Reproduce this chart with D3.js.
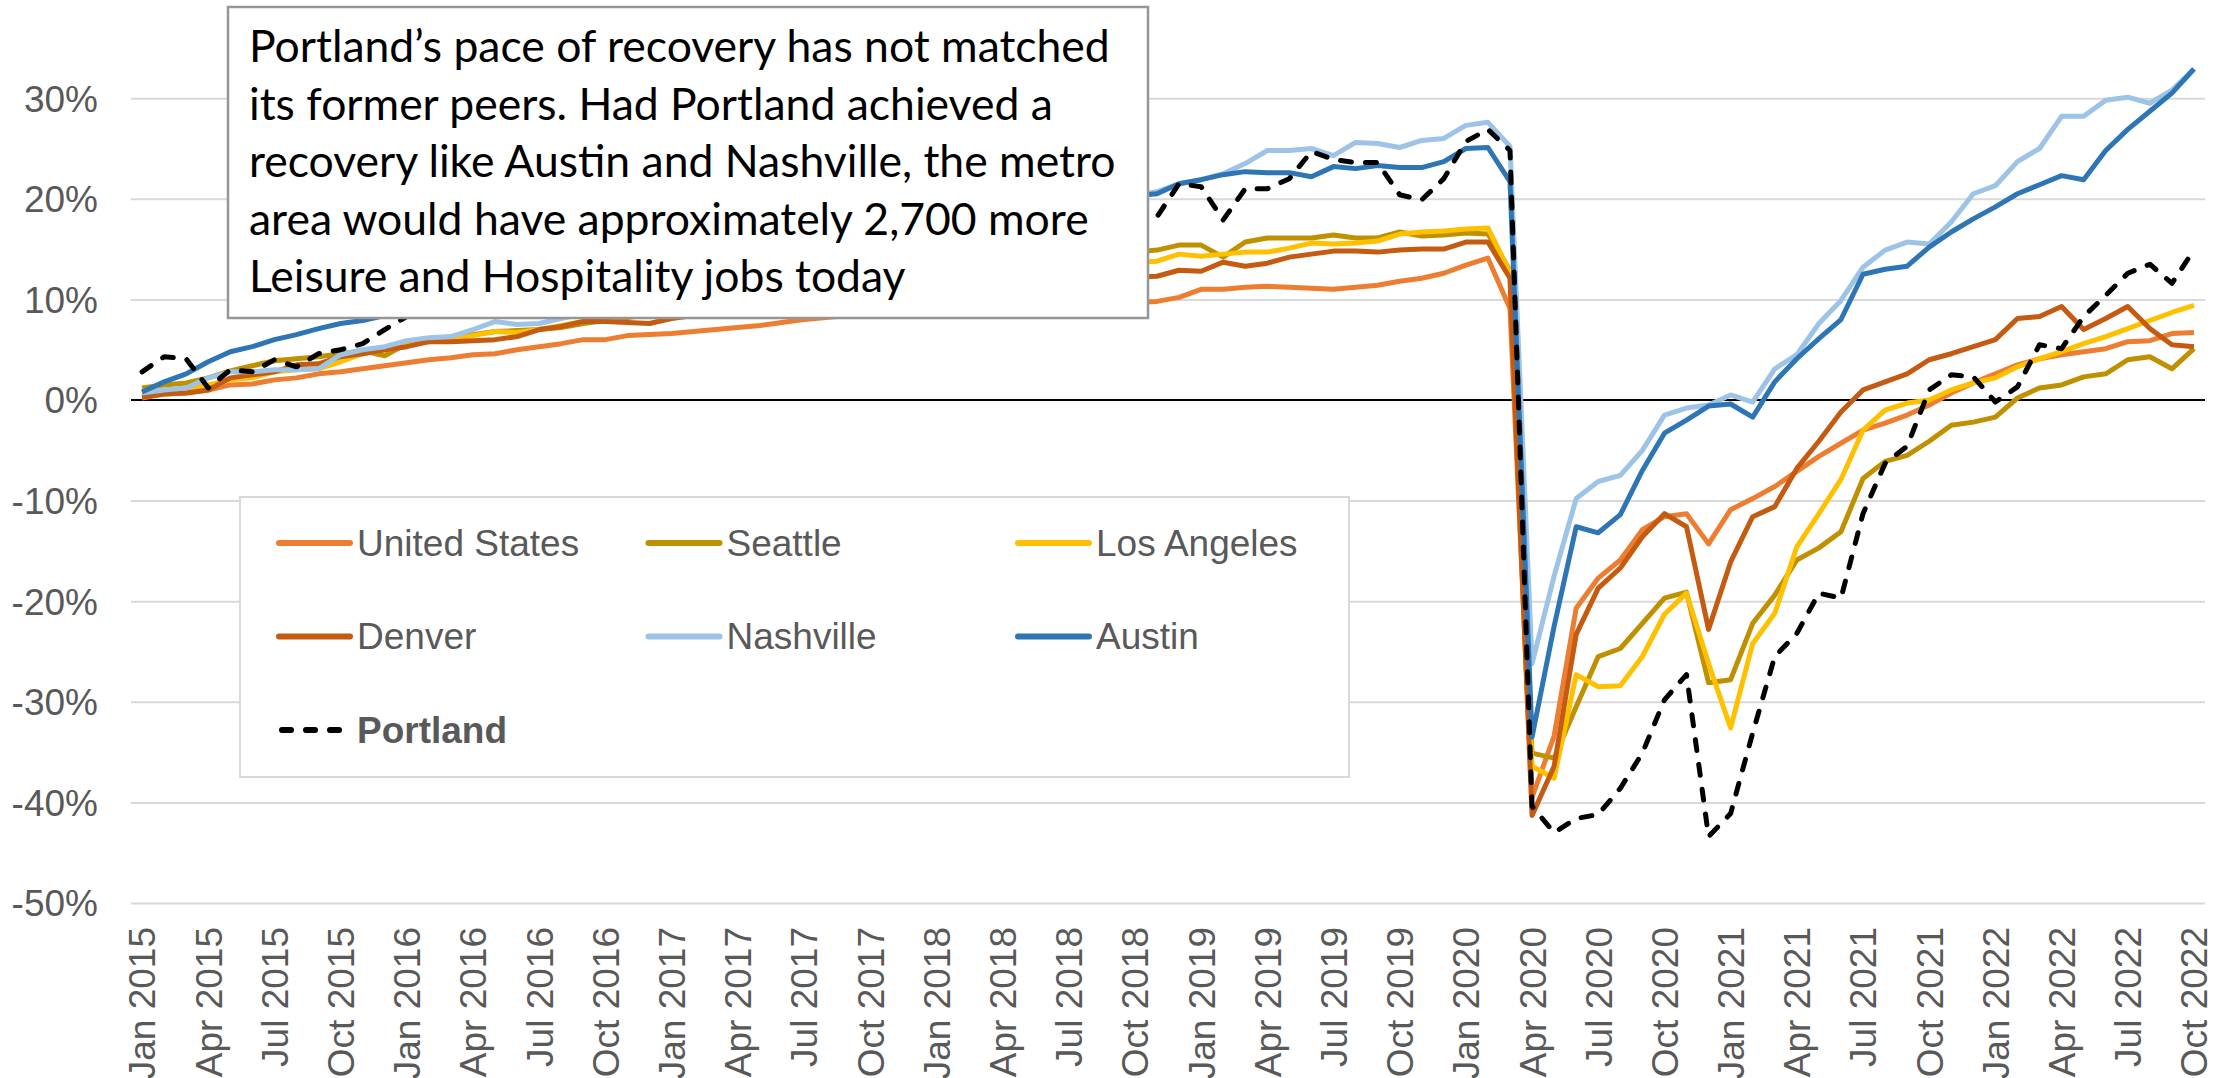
<!DOCTYPE html>
<html>
<head>
<meta charset="utf-8">
<script src="https://cdn.jsdelivr.net/npm/d3@7/dist/d3.min.js"></script>
<style>
  body { margin: 0; background: #ffffff; }
  svg { display: block; }
</style>
</head>
<body>
<svg id="chart" width="2236" height="1078"></svg>
<script>
// months Jan 2015 .. Oct 2022 (94 points), % change in Leisure & Hospitality jobs since Jan 2015
const months = d3.timeMonth.range(new Date(2015, 0, 1), new Date(2022, 10, 1));

const tickLabels = [
  "Jan 2015", "Apr 2015", "Jul 2015", "Oct 2015",
  "Jan 2016", "Apr 2016", "Jul 2016", "Oct 2016",
  "Jan 2017", "Apr 2017", "Jul 2017", "Oct 2017",
  "Jan 2018", "Apr 2018", "Jul 2018", "Oct 2018",
  "Jan 2019", "Apr 2019", "Jul 2019", "Oct 2019",
  "Jan 2020", "Apr 2020", "Jul 2020", "Oct 2020",
  "Jan 2021", "Apr 2021", "Jul 2021", "Oct 2021",
  "Jan 2022", "Apr 2022", "Jul 2022", "Oct 2022"
];

const yTicks = [-50, -40, -30, -20, -10, 0, 10, 20, 30];

const unitedStates = [
  0.2, 0.6, 0.7, 1.0, 1.5, 1.6, 2.0, 2.2, 2.6, 2.8, 3.1, 3.4,
  3.7, 4.0, 4.2, 4.5, 4.6, 5.0, 5.3, 5.6, 6.0, 6.0, 6.4, 6.5,
  6.6, 6.8, 7.0, 7.2, 7.4, 7.7, 8.0, 8.2, 8.4, 8.5, 8.6, 8.7,
  8.9, 9.0, 9.1, 9.2, 9.3, 9.4, 9.5, 9.5, 9.6, 9.7, 9.8, 10.2,
  11.0, 11.0, 11.2, 11.3, 11.2, 11.1, 11.0, 11.2, 11.4, 11.8, 12.1, 12.6,
  13.4, 14.1, 9.1, -39.5, -33.4, -20.7, -17.7, -15.9, -12.9, -11.6, -11.3, -14.3,
  -10.9, -9.8, -8.6, -7.1, -5.6, -4.3, -3.0, -2.3, -1.5, -0.5, 0.7, 1.7,
  2.6, 3.5, 4.1, 4.5, 4.8, 5.1, 5.8, 5.9, 6.6, 6.7
];

const seattle = [
  1.2, 1.5, 1.7, 2.2, 2.9, 3.4, 3.9, 4.1, 4.3, 4.6, 4.9, 4.4,
  5.6, 5.8, 6.2, 6.5, 6.8, 6.9, 7.0, 7.2, 7.6, 7.9, 8.2, 8.5,
  8.8, 9.1, 9.4, 9.7, 10.0, 10.3, 10.6, 10.9, 11.2, 11.5, 11.8, 12.1,
  12.4, 12.7, 13.0, 13.3, 13.6, 13.9, 14.1, 14.3, 14.5, 14.7, 14.9, 15.4,
  15.4, 14.2, 15.7, 16.1, 16.1, 16.1, 16.4, 16.1, 16.1, 16.7, 16.3, 16.4,
  16.6, 16.5, 12.9, -35.1, -35.6, -30.5, -25.5, -24.7, -22.2, -19.7, -19.1, -28.1,
  -27.8, -22.2, -19.4, -15.9, -14.7, -13.1, -7.8, -6.1, -5.5, -4.1, -2.5, -2.2,
  -1.7, 0.2, 1.2, 1.5, 2.3, 2.6, 4.0, 4.3, 3.1, 5.1
];

const losAngeles = [
  0.9, 1.0, 1.1, 1.5, 2.0, 2.2, 2.8, 3.0, 3.1, 3.8, 4.6, 5.0,
  5.4, 5.8, 6.0, 6.4, 6.8, 6.7, 7.0, 7.4, 7.8, 8.1, 8.4, 8.7,
  9.0, 9.3, 9.6, 9.9, 10.2, 10.5, 10.8, 11.0, 11.3, 11.5, 11.8, 12.0,
  12.3, 12.5, 12.7, 12.9, 13.1, 13.3, 13.4, 13.5, 13.6, 13.7, 13.8, 14.5,
  14.3, 14.5, 14.7, 14.7, 15.1, 15.6, 15.5, 15.6, 15.8, 16.5, 16.7, 16.8,
  17.0, 17.1, 12.7, -36.4, -37.6, -27.3, -28.5, -28.4, -25.5, -21.3, -19.2, -26.2,
  -32.6, -24.2, -21.2, -14.6, -11.3, -7.9, -3.0, -1.0, -0.3, 0.0, 1.0, 1.7,
  2.2, 3.3, 4.1, 4.8, 5.6, 6.3, 7.1, 7.9, 8.7, 9.4
];

const denver = [
  0.3, 0.6, 0.7, 1.0, 2.2, 2.5, 2.8, 3.5, 3.6, 4.3, 4.6, 5.0,
  5.3, 5.8, 5.8, 5.9, 6.0, 6.3, 7.0, 7.3, 7.8, 7.8, 7.7, 7.6,
  8.1, 8.4, 8.7, 9.0, 9.3, 9.6, 9.8, 10.0, 10.2, 10.4, 10.6, 10.8,
  11.0, 11.2, 11.3, 11.5, 11.6, 11.8, 11.9, 12.0, 12.1, 12.2, 12.3, 12.9,
  12.8, 13.7, 13.3, 13.6, 14.2, 14.5, 14.8, 14.8, 14.7, 14.9, 15.0, 15.0,
  15.7, 15.7, 12.1, -41.3, -36.4, -23.3, -18.7, -16.7, -13.6, -11.3, -12.6, -22.8,
  -16.1, -11.6, -10.6, -6.8, -4.1, -1.2, 1.0, 1.8, 2.6, 4.0, 4.6, 5.3,
  6.0, 8.1, 8.3, 9.3, 7.0, 8.1, 9.3, 7.1, 5.5, 5.3
];

const nashville = [
  0.7, 1.0, 1.2, 2.2, 2.8, 2.8, 3.0, 3.0, 3.1, 4.5, 5.0, 5.3,
  5.9, 6.2, 6.3, 7.0, 7.8, 7.5, 7.6, 8.1, 8.6, 9.1, 9.6, 10.1,
  10.6, 11.1, 11.6, 12.1, 12.6, 13.1, 13.6, 14.1, 14.6, 15.1, 15.6, 16.1,
  16.6, 17.1, 17.5, 17.9, 18.3, 18.7, 19.1, 19.5, 19.9, 20.3, 20.7, 21.5,
  21.9, 22.5, 23.5, 24.8, 24.8, 25.0, 24.3, 25.6, 25.5, 25.1, 25.8, 26.0,
  27.3, 27.6, 25.2, -26.2, -17.5, -9.8, -8.1, -7.5, -5.0, -1.5, -0.8, -0.5,
  0.5, -0.2, 3.1, 4.5, 7.6, 9.9, 13.2, 14.9, 15.7, 15.5, 17.7, 20.5,
  21.3, 23.7, 25.0, 28.2, 28.2, 29.8, 30.1, 29.5, 30.8, 32.9
];

const austin = [
  0.8, 1.8, 2.6, 3.8, 4.8, 5.3, 6.0, 6.5, 7.1, 7.6, 7.9, 8.4,
  8.9, 9.4, 9.8, 10.2, 10.6, 11.0, 11.4, 11.8, 12.2, 12.6, 13.0, 13.4,
  13.8, 14.2, 14.6, 15.0, 15.4, 15.8, 16.1, 16.4, 16.7, 17.0, 17.3, 17.6,
  17.9, 18.2, 18.5, 18.8, 19.1, 19.4, 19.7, 19.9, 20.1, 20.3, 20.5, 21.5,
  21.9, 22.4, 22.7, 22.6, 22.6, 22.2, 23.2, 23.0, 23.3, 23.1, 23.1, 23.7,
  25.0, 25.1, 21.7, -33.5, -22.5, -12.6, -13.2, -11.4, -7.0, -3.3, -2.0, -0.6,
  -0.4, -1.7, 1.8, 4.1, 6.1, 8.0, 12.5, 13.0, 13.3, 15.2, 16.7, 18.0,
  19.2, 20.5, 21.4, 22.3, 21.9, 24.8, 26.9, 28.7, 30.5, 32.9
];

const portland = [
  2.8, 4.3, 4.1, 1.2, 3.0, 2.8, 4.0, 3.3, 4.6, 5.0, 5.6, 7.0,
  8.3, 9.4, 10.2, 10.8, 11.5, 12.0, 12.5, 13.0, 13.5, 14.0, 14.4, 14.8,
  15.2, 15.6, 16.0, 16.3, 16.6, 16.9, 17.2, 17.4, 17.6, 17.8, 18.0, 18.2,
  18.4, 18.6, 18.8, 19.0, 19.2, 19.4, 19.6, 19.0, 18.6, 19.0, 18.2, 21.5,
  21.2, 17.9, 21.0, 21.0, 22.0, 24.7, 23.9, 23.6, 23.6, 20.4, 19.9, 22.0,
  25.7, 26.9, 24.8, -40.4, -43.0, -41.6, -41.2, -38.6, -35.1, -29.8, -27.3, -43.4,
  -41.1, -33.1, -25.5, -23.2, -19.2, -19.7, -11.3, -6.3, -4.6, 1.0, 2.5, 2.3,
  -0.2, 1.3, 5.5, 5.1, 8.3, 10.4, 12.6, 13.5, 11.6, 14.9
];

const seriesNames = ["United States", "Seattle", "Los Angeles", "Denver", "Nashville", "Austin", "Portland"];
const seriesColors = ["#ED7D31", "#BF9000", "#FFC000", "#C55A11", "#9DC3E6", "#2E75B6", "#000000"];
const seriesValues = [unitedStates, seattle, losAngeles, denver, nashville, austin, portland];

const noteLines = [
  "Portland\u2019s pace of recovery has not matched",
  "its former peers. Had Portland achieved a",
  "recovery like Austin and Nashville, the metro",
  "area would have approximately 2,700 more",
  "Leisure and Hospitality jobs today"
];

const series = seriesNames.map((name, k) => ({
  name: name,
  color: seriesColors[k],
  values: seriesValues[k],
  dashed: name === "Portland"
}));

const svg = d3.select("#chart");

const plot = {left: 131, right: 2205, top: -2.4, bottom: 903};
const labelFont = "'Liberation Sans', Arial, sans-serif";
const labelColor = "#595959";

const x = d3.scalePoint()
  .domain(d3.range(months.length))
  .range([plot.left, plot.right])
  .padding(0.5);

const y = d3.scaleLinear()
  .domain([-50, 40])
  .range([plot.bottom, plot.top]);

// gridlines
const grid = svg.append("g")
  .attr("transform", `translate(${plot.left},0)`)
  .call(d3.axisLeft(y).tickValues(yTicks.filter(d => d !== 0)).tickSize(-(plot.right - plot.left)).tickFormat(""));
grid.select(".domain").remove();
grid.selectAll("line").attr("stroke", "#d9d9d9").attr("stroke-width", 2);

// y labels
const yAxis = svg.append("g")
  .attr("transform", `translate(${plot.left},0)`)
  .call(d3.axisLeft(y).tickValues(yTicks).tickSize(0).tickPadding(33).tickFormat(d => d + "%"));
yAxis.select(".domain").remove();
yAxis.selectAll("text")
  .attr("font-family", labelFont)
  .attr("font-size", 37)
  .attr("fill", labelColor)
  .attr("dy", "0.35em");

// zero line
svg.append("line")
  .attr("x1", plot.left).attr("x2", plot.right)
  .attr("y1", y(0)).attr("y2", y(0))
  .attr("stroke", "#000").attr("stroke-width", 2);

// x labels
const xAxis = svg.append("g")
  .attr("transform", `translate(0,${plot.bottom})`)
  .call(d3.axisBottom(x).tickValues(d3.range(0, months.length, 3)).tickSize(0).tickFormat(i => tickLabels[i / 3]));
xAxis.select(".domain").remove();
xAxis.selectAll("text")
  .attr("font-family", labelFont)
  .attr("font-size", 37)
  .attr("fill", labelColor)
  .attr("transform", "rotate(-90)")
  .attr("x", -24)
  .attr("y", 0)
  .attr("dy", "0.35em")
  .attr("text-anchor", "end");

// lines
const line = d3.line()
  .x((d, i) => x(i))
  .y(d => y(d));

svg.append("g")
  .selectAll("path")
  .data(series)
  .enter().append("path")
  .attr("d", d => line(d.values))
  .attr("fill", "none")
  .attr("stroke", d => d.color)
  .attr("stroke-width", 5)
  .attr("stroke-linejoin", "round")
  .attr("stroke-linecap", d => d.dashed ? "round" : "butt")
  .attr("stroke-dasharray", d => d.dashed ? "11,14" : null);

// note box
const note = svg.append("g");
note.append("rect")
  .attr("x", 228).attr("y", 7)
  .attr("width", 920).attr("height", 311)
  .attr("fill", "#fff")
  .attr("stroke", "#969696")
  .attr("stroke-width", 2.5);

const noteText = note.selectAll("text")
  .data(noteLines)
  .enter().append("text")
  .attr("x", 249)
  .attr("y", (d, i) => 62 + i * 57.5)
  .attr("font-family", "Lato, 'Open Sans', sans-serif")
  .attr("font-size", 40)
  .attr("fill", "#000")
  .text(d => d);

// fit the first line to the width it has in the picture
const firstWidth = noteText.node().getComputedTextLength();
noteText.attr("font-size", 40 * 861 / firstWidth);

// legend
const legend = svg.append("g").attr("transform", "translate(240,497)");
legend.append("rect")
  .attr("width", 1109).attr("height", 280)
  .attr("fill", "#fff")
  .attr("stroke", "#d9d9d9")
  .attr("stroke-width", 2);

const items = legend.selectAll(".item")
  .data(series)
  .enter().append("g")
  .attr("class", "item")
  .attr("transform", (d, i) => `translate(${39 + (i % 3) * 369.5},${46 + Math.floor(i / 3) * 93.5})`);

items.append("line")
  .attr("x1", 0).attr("x2", 71)
  .attr("stroke", d => d.color)
  .attr("stroke-width", 6)
  .attr("stroke-linecap", "round")
  .attr("stroke-dasharray", d => d.dashed ? "9,15" : null)
  .attr("transform", d => d.dashed ? "translate(3,0)" : null);

items.append("text")
  .attr("x", 78)
  .attr("dy", "0.35em")
  .attr("font-family", labelFont)
  .attr("font-size", 37)
  .attr("font-weight", d => d.dashed ? "bold" : "normal")
  .attr("fill", labelColor)
  .text(d => d.name);
</script>
</body>
</html>
